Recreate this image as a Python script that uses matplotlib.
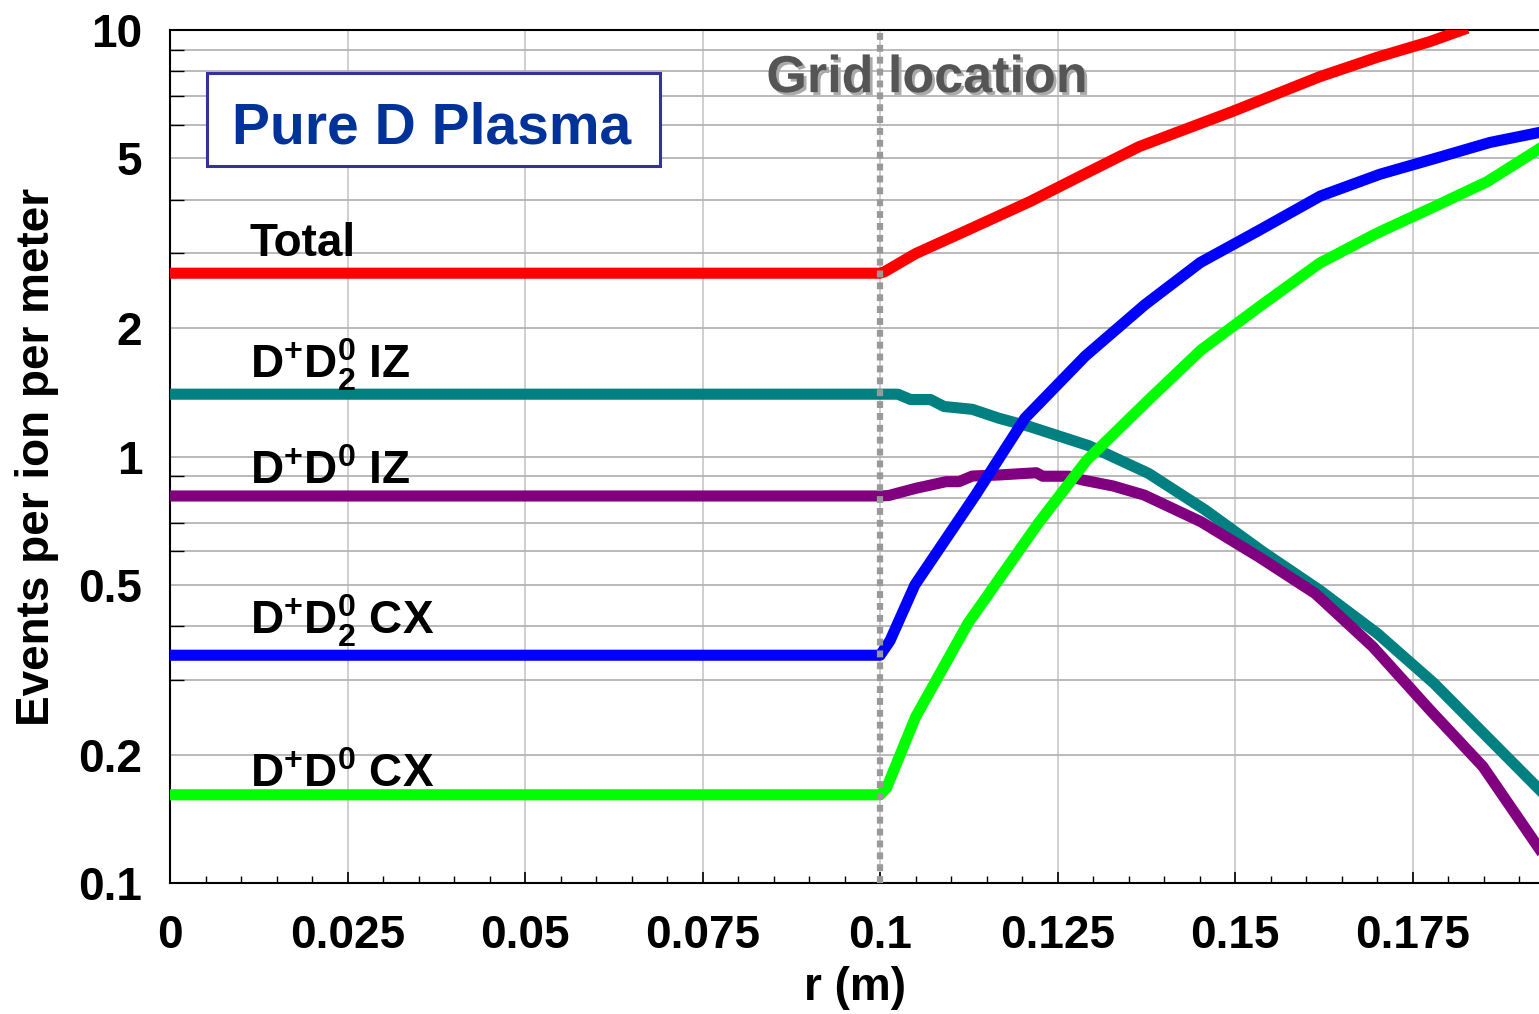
import numpy as np
import matplotlib.pyplot as plt
import matplotlib.ticker as mticker
import matplotlib.patheffects as pe
from matplotlib.patches import Rectangle

plt.rcParams['font.family'] = ['Liberation Sans', 'DejaVu Sans']
plt.rcParams['mathtext.fontset'] = 'custom'
plt.rcParams['mathtext.rm'] = 'Liberation Sans:bold'
plt.rcParams['mathtext.default'] = 'rm'

# Data
r_total = [0, 0.1, 0.1006, 0.105, 0.1124, 0.1211, 0.1285, 0.1365, 0.1495, 0.1619, 0.170, 0.1774, 0.182]
total = [2.69, 2.69, 2.71, 2.99, 3.40, 3.96, 4.57, 5.33, 6.43, 7.77, 8.63, 9.39, 10.0]

r_d2_iz = [0, 0.1, 0.1025, 0.1043, 0.1071, 0.109, 0.113, 0.1167, 0.1211, 0.1294, 0.1378,
           0.1458, 0.1539, 0.1619, 0.170, 0.178, 0.1855, 0.1928]
d2_iz = [1.40, 1.40, 1.40, 1.36, 1.36, 1.31, 1.29, 1.23, 1.175, 1.06, 0.913,
         0.749, 0.598, 0.486, 0.385, 0.294, 0.220, 0.166]

r_d0_iz = [0, 0.1, 0.1012, 0.105, 0.1093, 0.1111, 0.113, 0.1167, 0.122, 0.1229, 0.1266,
           0.1285, 0.1328, 0.1372, 0.1452, 0.1533, 0.1613, 0.1694, 0.1774, 0.1849, 0.1928]
d0_iz = [0.808, 0.808, 0.81, 0.842, 0.873, 0.873, 0.90, 0.905, 0.916, 0.899, 0.899,
         0.881, 0.853, 0.812, 0.703, 0.582, 0.477, 0.358, 0.255, 0.1875, 0.1206]

r_d2_cx = [0, 0.1, 0.1014, 0.1049, 0.1134, 0.1204, 0.1289, 0.1373, 0.1451, 0.1535, 0.162,
           0.1704, 0.1789, 0.1859, 0.1928]
d2_cx = [0.342, 0.342, 0.37, 0.50, 0.81, 1.23, 1.72, 2.27, 2.85, 3.40, 4.08,
         4.59, 5.04, 5.45, 5.75]

r_d0_cx = [0, 0.1, 0.1009, 0.105, 0.1124, 0.1223, 0.1291, 0.1378, 0.1452, 0.1538, 0.1619,
           0.170, 0.178, 0.1855, 0.1928]
d0_cx = [0.161, 0.161, 0.167, 0.245, 0.407, 0.698, 0.98, 1.357, 1.777, 2.27, 2.84,
         3.34, 3.85, 4.41, 5.26]

x_ticks = [0, 0.025, 0.05, 0.075, 0.1, 0.125, 0.15, 0.175]
x_ticklabels = ['0', '0.025', '0.05', '0.075', '0.1', '0.125', '0.15', '0.175']
y_ticks = [0.1, 0.2, 0.5, 1, 2, 5, 10]
y_ticklabels = ['0.1', '0.2', '0.5', '1', '2', '5', '10']
grid_r = 0.1

fig = plt.figure(figsize=(15.39, 10.14), dpi=100)
ax = fig.add_axes([0.1105, 0.1292, 0.8895, 0.8412])
ax.set_yscale('log')
ax.set_xlim(0, 0.1928)
ax.set_ylim(0.1, 10)

# grid
ax.yaxis.set_minor_locator(mticker.LogLocator(base=10, subs=np.arange(2, 10)))
ax.yaxis.set_minor_formatter(mticker.NullFormatter())
ax.xaxis.set_minor_locator(mticker.MultipleLocator(0.005))
ax.grid(True, which='both', axis='y', color='#b4b4b4', lw=1.3)
ax.grid(True, which='major', axis='x', color='#cccccc', lw=1.3)
ax.set_axisbelow(True)

lw = 8
ax.plot(r_total, total, color='#ff0000', lw=lw, zorder=3)
ax.plot(r_d2_iz, d2_iz, color='#008080', lw=lw, zorder=3)
ax.plot(r_d0_iz, d0_iz, color='#800080', lw=lw, zorder=3)
ax.plot(r_d2_cx, d2_cx, color='#0000ff', lw=lw, zorder=3)
ax.plot(r_d0_cx, d0_cx, color='#00ff00', lw=lw, zorder=3)

# grid location line
ax.axvline(grid_r, color='#999999', lw=4.5, ls=(0, (1.1, 0.8)), zorder=4)

# ticks
ax.set_xticks(x_ticks)
ax.set_xticklabels(x_ticklabels, fontsize=33, fontweight='bold',
                   family=['Liberation Sans Narrow', 'Liberation Sans'])
ax.set_yticks(y_ticks)
ax.set_yticklabels(y_ticklabels, fontsize=33, fontweight='bold')
ax.tick_params(axis='x', which='major', direction='in', length=8, width=1.2, pad=22)
ax.tick_params(axis='x', which='minor', direction='in', length=5, width=1)
ax.tick_params(axis='y', which='both', direction='in', length=10, width=1, pad=20)
ax.tick_params(axis='y', which='major', length=0)

for s in ['left', 'bottom', 'top']:
    ax.spines[s].set_linewidth(1.5)
ax.spines['right'].set_visible(False)

ax.set_xlabel('r (m)', fontsize=33, fontweight='bold', labelpad=6)
ax.set_ylabel('Events per ion per meter', fontsize=33, fontweight='bold', labelpad=14)

# curve labels
lab_kw = dict(fontsize=33, fontweight='bold', color='black', zorder=5)
ax.text(0.0112, 2.95, 'Total', **lab_kw)
ax.text(0.0112, 1.52, r'D$^{+}$D$_{2}^{0}$ IZ', **lab_kw)
ax.text(0.0112, 0.86, r'D$^{+}$D$^{0}$ IZ', **lab_kw)
ax.text(0.0112, 0.383, r'D$^{+}$D$_{2}^{0}$ CX', **lab_kw)
ax.text(0.0112, 0.168, r'D$^{+}$D$^{0}$ CX', **lab_kw)

# title box
ax.add_patch(Rectangle((0.027, 0.8406), 0.331, 0.109, transform=ax.transAxes,
                       fc='white', ec='#333399', lw=2.2, zorder=5))
ax.text(0.0453, 0.8675, 'Pure D Plasma', transform=ax.transAxes, fontsize=41,
        fontweight='bold', color='#003399', ha='left', va='baseline', zorder=6)

ax.text(0.1066, 7.15, 'Grid location', fontsize=37.5, fontweight='bold', color='#555555',
        ha='center', va='baseline', zorder=5,
        path_effects=[pe.withSimplePatchShadow(offset=(2, -2), shadow_rgbFace='#aaaaaa', alpha=1.0)])

fig.savefig('out.png', dpi=100)
